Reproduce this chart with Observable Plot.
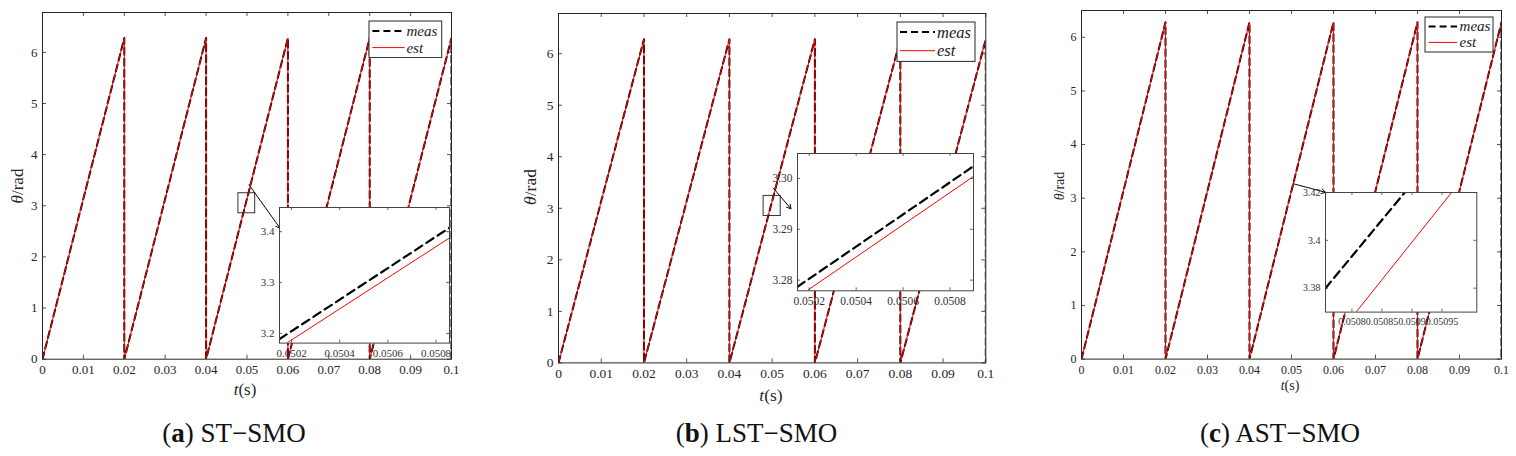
<!DOCTYPE html>
<html><head><meta charset="utf-8">
<script src="https://cdn.jsdelivr.net/npm/d3@7"></script>
<script src="https://cdn.jsdelivr.net/npm/@observablehq/plot@0.6"></script>
<style>
html,body{margin:0;padding:0;background:#fff;}
#fig{position:relative;width:1516px;height:456px;overflow:hidden;font-family:"Liberation Serif",serif;color:#262626;}
#fig svg{position:absolute;}
.lbl{position:absolute;white-space:nowrap;line-height:1;transform:translate(-50%,-50%);}
.cap{position:absolute;white-space:nowrap;line-height:1;transform:translate(-50%,-50%);font-size:27px;color:#111;}
</style></head><body><div id="fig"></div>
<script>
// ---- data ----
const tVert = [0, 0.02, 0.02, 0.04, 0.04, 0.06, 0.06, 0.08, 0.08, 0.1, 0.1];
const thetaMeasA = [0, 6.28, 0, 6.28, 0, 6.28, 0, 6.28, 0, 6.28, 0];
const thetaEstA  = [0, 6.28, 0, 6.28, 0, 6.28, 0, 6.28, 0, 6.28, 0];
const thetaMeasB = [0, 6.28, 0, 6.28, 0, 6.28, 0, 6.28, 0, 6.28, 0];
const thetaEstB  = [0, 6.28, 0, 6.28, 0, 6.28, 0, 6.28, 0, 6.28, 0];
const thetaMeasC = [0, 6.28, 0, 6.28, 0, 6.28, 0, 6.28, 0, 6.28, 0];
const thetaEstC  = [0, 6.28, 0, 6.28, 0, 6.28, 0, 6.28, 0, 6.28, 0];

const xTicks = [0, 0.01, 0.02, 0.03, 0.04, 0.05, 0.06, 0.07, 0.08, 0.09, 0.1];
const xTickLabels = ["0", "0.01", "0.02", "0.03", "0.04", "0.05", "0.06", "0.07", "0.08", "0.09", "0.1"];
const yTicks = [0, 1, 2, 3, 4, 5, 6];
const yTickLabels = ["0", "1", "2", "3", "4", "5", "6"];

// zoomed insets
const insetA_tMeas = [0.05015, 0.05086], insetA_meas = [3.189, 3.409];
const insetA_tEst  = [0.05018, 0.05086], insetA_est  = [3.181, 3.389];
const insetA_xTicks = [0.0502, 0.0504, 0.0506, 0.0508];
const insetA_xLabels = ["0.0502", "0.0504", "0.0506", "0.0508"];
const insetA_yTicks = [3.2, 3.3, 3.4];
const insetA_yLabels = ["3.2", "3.3", "3.4"];

const insetB_tMeas = [0.05015, 0.0509], insetB_meas = [3.2787, 3.3024];
const insetB_tEst  = [0.050193, 0.0509], insetB_est = [3.278, 3.3004];
const insetB_xTicks = [0.0502, 0.0504, 0.0506, 0.0508];
const insetB_xLabels = ["0.0502", "0.0504", "0.0506", "0.0508"];
const insetB_yTicks = [3.28, 3.29, 3.30];
const insetB_yLabels = ["3.28", "3.29", "3.30"];

const insetC_tMeas = [0.050756, 0.050888], insetC_meas = [3.38, 3.42];
const insetC_tEst  = [0.050807, 0.050966], insetC_est  = [3.37, 3.42];
const insetC_xTicks = [0.0508, 0.05085, 0.0509, 0.05095];
const insetC_xLabels = ["0.0508", "0.05085", "0.0509", "0.05095"];
const insetC_yTicks = [3.38, 3.4, 3.42];
const insetC_yLabels = ["3.38", "3.4", "3.42"];

// zoom-box and arrow annotations (data coordinates)
const zoomBoxA = [{x1: 0.0479, x2: 0.052, y1: 2.854, y2: 3.246}];
const zoomBoxB = [{x1: 0.048, x2: 0.052, y1: 2.85, y2: 3.24}];
const zoomBoxC = [];
const arrowA = [{x1: 0.0505, y1: 3.41, x2: 0.0581, y2: 2.56}];
const arrowB = [{x1: 0.0503, y1: 3.39, x2: 0.0544, y2: 2.99}];
const arrowC = [{x1: 0.0504, y1: 3.27, x2: 0.0581, y2: 3.11}];

const legendLabels = ["meas", "est"];
const captions = [["a", "ST−SMO"], ["b", "LST−SMO"], ["c", "AST−SMO"]];

// ---- layout ----
const fig = document.getElementById("fig");
const AX = "#262626";

const panels = [
  {L: 41.7, R: 450.7, T: 12.3, B: 359, ymax: 6.78, font: 13, meas: thetaMeasA, est: thetaEstA, box: zoomBoxA, arrow: arrowA,
   xl: [245, 389], yl: [16.5, 186], lf: 17, cap: [234, 433],
   leg: {x: 369.3, y: 20.7, w: 72.7, h: 36.6, s1: 372.7, s2: 405, r1: 30.7, r2: 47.3, tx: 406.7, fs: 15},
   inset: {L: 279.3, R: 449.3, T: 206.7, B: 342.3, xd: [0.05015, 0.050856], yd: [3.181, 3.4476], font: 11,
     tm: insetA_tMeas, m: insetA_meas, te: insetA_tEst, e: insetA_est, xt: insetA_xTicks, xlab: insetA_xLabels, yt: insetA_yTicks, ylab: insetA_yLabels}},
  {L: 557.7, R: 985, T: 13.3, B: 362.7, ymax: 6.78, font: 13.5, meas: thetaMeasB, est: thetaEstB, box: zoomBoxB, arrow: arrowB,
   xl: [771, 395.5], yl: [531, 187], lf: 17.5, cap: [756.5, 433],
   leg: {x: 897, y: 22.3, w: 78, h: 39.4, s1: 900, s2: 935, r1: 32.3, r2: 51, tx: 937, fs: 16.5},
   inset: {L: 797.3, R: 973.3, T: 152.7, B: 290, xd: [0.05015, 0.0509], yd: [3.2779, 3.3049], font: 11.5,
     tm: insetB_tMeas, m: insetB_meas, te: insetB_tEst, e: insetB_est, xt: insetB_xTicks, xlab: insetB_xLabels, yt: insetB_yTicks, ylab: insetB_yLabels}},
  {L: 1081, R: 1501, T: 9.7, B: 358.3, ymax: 6.5, font: 12, meas: thetaMeasC, est: thetaEstC, box: zoomBoxC, arrow: arrowC,
   xl: [1290, 386], yl: [1059.5, 186], lf: 14, cap: [1280, 433],
   leg: {x: 1424.7, y: 17.3, w: 68, h: 35, s1: 1428.3, s2: 1456.7, r1: 26.7, r2: 42.7, tx: 1459.3, fs: 15},
   inset: {L: 1325, R: 1476.3, T: 191.7, B: 311.3, xd: [0.050756, 0.051008], yd: [3.37, 3.42], font: 10,
     tm: insetC_tMeas, m: insetC_meas, te: insetC_tEst, e: insetC_est, xt: insetC_xTicks, xlab: insetC_xLabels, yt: insetC_yTicks, ylab: insetC_yLabels}}
];

function fmtMap(ticks, labels) { const m = new Map(ticks.map((t, i) => [t, labels[i]])); return d => m.get(d); }

function place(svg, left, top) { svg.style.left = left + "px"; svg.style.top = top + "px"; fig.appendChild(svg); }

function drawMain(p) {
  const ml = 40, mr = 12, mt = 6, mb = 24;
  const W = p.R - p.L, H = p.B - p.T;
  const measData = tVert.map((t, i) => ({t, v: p.meas[i]}));
  const estData = tVert.map((t, i) => ({t, v: p.est[i]}));
  const svg = Plot.plot({
    width: W + ml + mr, height: H + mt + mb,
    marginLeft: ml, marginRight: mr, marginTop: mt, marginBottom: mb,
    x: {domain: [0, 0.1]}, y: {domain: [0, p.ymax]},
    style: {fontFamily: "Liberation Serif", fontSize: p.font + "px", color: AX, background: "transparent", overflow: "visible", maxWidth: "none"},
    marks: [
      Plot.line(measData, {x: "t", y: "v", stroke: "black", strokeWidth: 2, strokeDasharray: "7,4", clip: true}),
      Plot.line(estData, {x: "t", y: "v", stroke: "#ff0000", strokeWidth: 1, clip: true}),
      Plot.rect(p.box, {x1: "x1", x2: "x2", y1: "y1", y2: "y2", fill: "none", stroke: "#333", strokeWidth: 1}),
      Plot.arrow(p.arrow, {x1: "x1", y1: "y1", x2: "x2", y2: "y2", stroke: "black", strokeWidth: 1, headLength: 7}),
      Plot.tickX(xTicks, {x: d => d, insetTop: H - 4, stroke: AX, strokeWidth: 0.8}),
      Plot.tickX(xTicks, {x: d => d, insetBottom: H - 4, stroke: AX, strokeWidth: 0.8}),
      Plot.tickY(yTicks, {y: d => d, insetRight: W - 4, stroke: AX, strokeWidth: 0.8}),
      Plot.tickY(yTicks, {y: d => d, insetLeft: W - 4, stroke: AX, strokeWidth: 0.8}),
      Plot.axisX(xTicks, {tickSize: 0, tickPadding: 6, tickFormat: fmtMap(xTicks, xTickLabels), label: null}),
      Plot.axisY(yTicks, {tickSize: 0, tickPadding: 5, tickFormat: fmtMap(yTicks, yTickLabels), label: null}),
      Plot.frame({stroke: AX, strokeWidth: 1})
    ]
  });
  place(svg, p.L - ml, p.T - mt);
}

function drawInset(q) {
  const ml = 34, mr = 3, mt = 3, mb = 20;
  const W = q.R - q.L, H = q.B - q.T;
  const mD = q.tm.map((t, i) => ({t, v: q.m[i]}));
  const eD = q.te.map((t, i) => ({t, v: q.e[i]}));
  const svg = Plot.plot({
    width: W + ml + mr, height: H + mt + mb,
    marginLeft: ml, marginRight: mr, marginTop: mt, marginBottom: mb,
    x: {domain: q.xd}, y: {domain: q.yd},
    style: {fontFamily: "Liberation Serif", fontSize: q.font + "px", color: "#333", background: "transparent", overflow: "visible", maxWidth: "none"},
    marks: [
      Plot.frame({fill: "white", stroke: "none"}),
      Plot.line(mD, {x: "t", y: "v", stroke: "black", strokeWidth: 2.2, strokeDasharray: "8.5,5", clip: true}),
      Plot.line(eD, {x: "t", y: "v", stroke: "#ff0000", strokeWidth: 1, clip: true}),
      Plot.tickX(q.xt, {x: d => d, insetTop: H - 3, stroke: AX, strokeWidth: 0.7}),
      Plot.tickX(q.xt, {x: d => d, insetBottom: H - 3, stroke: AX, strokeWidth: 0.7}),
      Plot.tickY(q.yt, {y: d => d, insetRight: W - 3, stroke: AX, strokeWidth: 0.7}),
      Plot.tickY(q.yt, {y: d => d, insetLeft: W - 3, stroke: AX, strokeWidth: 0.7}),
      Plot.axisX(q.xt, {tickSize: 0, tickPadding: 6, tickFormat: fmtMap(q.xt, q.xlab), label: null}),
      Plot.axisY(q.yt, {tickSize: 0, tickPadding: 5, tickFormat: fmtMap(q.yt, q.ylab), label: null}),
      Plot.frame({stroke: "#444", strokeWidth: 1})
    ]
  });
  place(svg, q.L - ml, q.T - mt);
}

function drawLegend(g) {
  const ns = "http://www.w3.org/2000/svg";
  const svg = document.createElementNS(ns, "svg");
  svg.setAttribute("width", g.w + 2); svg.setAttribute("height", g.h + 2);
  svg.style.left = (g.x - 1) + "px"; svg.style.top = (g.y - 1) + "px";
  const mk = (tag, attrs) => { const e = document.createElementNS(ns, tag); for (const k in attrs) e.setAttribute(k, attrs[k]); svg.appendChild(e); return e; };
  mk("rect", {x: 1, y: 1, width: g.w, height: g.h, fill: "white", stroke: AX, "stroke-width": 1});
  const ox = g.x - 1, oy = g.y - 1;
  mk("line", {x1: g.s1 - ox, x2: g.s2 - ox, y1: g.r1 - oy, y2: g.r1 - oy, stroke: "black", "stroke-width": 2, "stroke-dasharray": "7,4"});
  mk("line", {x1: g.s1 - ox, x2: g.s2 - ox, y1: g.r2 - oy, y2: g.r2 - oy, stroke: "#ff0000", "stroke-width": 1});
  [g.r1, g.r2].forEach((ry, i) => {
    const t = mk("text", {x: g.tx - ox, y: ry - oy, "dominant-baseline": "central", "font-family": "Liberation Serif", "font-style": "italic", "font-size": g.fs, fill: "#222"});
    t.textContent = legendLabels[i];
  });
  fig.appendChild(svg);
}

function addDiv(cls, html, x, y, extra) {
  const d = document.createElement("div"); d.className = cls; d.innerHTML = html;
  d.style.left = x + "px"; d.style.top = y + "px";
  if (extra) Object.assign(d.style, extra);
  fig.appendChild(d);
}

panels.forEach((p, i) => {
  drawMain(p);
  drawInset(p.inset);
  drawLegend(p.leg);
  addDiv("lbl", "<i>t</i>(s)", p.xl[0], p.xl[1], {fontSize: p.lf + "px"});
  addDiv("lbl", "<i>θ</i>/rad", p.yl[0], p.yl[1], {fontSize: p.lf + "px", transform: "translate(-50%,-50%) rotate(-90deg)"});
  addDiv("cap", "(<b>" + captions[i][0] + "</b>) " + captions[i][1], p.cap[0], p.cap[1]);
});
</script></body></html>
